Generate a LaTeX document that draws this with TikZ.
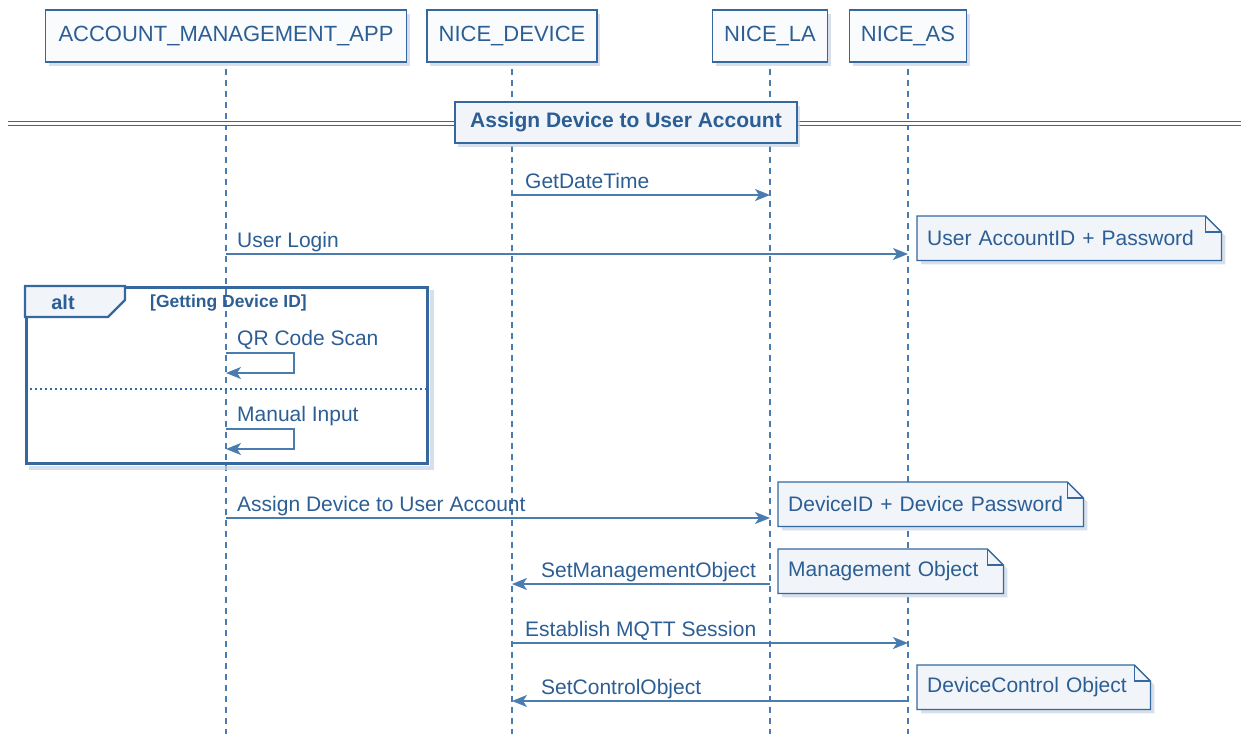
\documentclass[tikz,border=0pt]{standalone}
\usepackage{fontspec}
\setmainfont{Liberation Sans}
\usetikzlibrary{positioning}
\usetikzlibrary{calc}
\usetikzlibrary{arrows.meta, shadows, backgrounds}

\definecolor{umlline}{RGB}{52,104,158}
\definecolor{umltext}{RGB}{44,94,148}
\definecolor{umlarrow}{RGB}{74,124,176}
\definecolor{umlfill}{RGB}{250,251,253}
\definecolor{umlnote}{RGB}{241,245,250}
\definecolor{umlshadow}{RGB}{196,210,226}

\tikzstyle{participant} = [rectangle, draw=umlline, line width=1.8pt, fill=umlfill, text=umltext, minimum height=52pt, font=\fontsize{22}{26}\selectfont, drop shadow={shadow xshift=3pt, shadow yshift=-4pt, fill=umlshadow, opacity=0.7}]
\tikzstyle{lifeline} = [umlarrow, line width=1.2pt, dash pattern=on 6pt off 5pt]
\tikzstyle{msg} = [umlarrow, line width=1.5pt, -{Stealth[length=15pt, width=12pt, inset=4pt]}]
\tikzstyle{msgtext} = [anchor=base west, text=umltext, inner sep=0pt, font=\fontsize{21}{24}\selectfont]
\tikzstyle{notebox} = [anchor=north west, minimum height=44pt, inner xsep=10pt, text=umltext, align=left, font=\fontsize{21}{24}\selectfont]

% dog-eared note outline behind a named node
\newcommand{\drawnote}[1]{%
    \begin{pgfonlayer}{background}
    \fill[umlshadow, opacity=0.7] ($(#1.south west)+(4,4)$) -- ($(#1.north west)+(4,4)$)
        -- ($(#1.north east)+(-12,4)$) -- ($(#1.north east)+(4,20)$) -- ($(#1.south east)+(4,4)$) -- cycle;
    \filldraw[umlline, fill=umlnote, line width=1.3pt] (#1.south west) -- (#1.north west)
        -- ($(#1.north east)+(-16,0)$) -- ($(#1.north east)+(0,16)$) -- (#1.south east) -- cycle;
    \draw[umlline, line width=1.3pt] ($(#1.north east)+(-16,0)$) -- ($(#1.north east)+(-16,16)$) -- ($(#1.north east)+(0,16)$);
    \end{pgfonlayer}}

\begin{document}
\begin{tikzpicture}[x=1pt, y=-1pt]
    \useasboundingbox (0,0) rectangle (1241,734);

    % --- participants ---
    \node[participant, minimum width=361pt] at (226, 36) (app) {ACCOUNT\_MANAGEMENT\_APP};
    \node[participant, minimum width=170pt] at (512, 36) (device) {NICE\_DEVICE};
    \node[participant, minimum width=115pt] at (770, 36) (la) {NICE\_LA};
    \node[participant, minimum width=117pt] at (908, 36) (as) {NICE\_AS};

    % bottom of the lifelines
    \coordinate (bottom) at (0, 734);

    % lifelines, kept behind everything else
    \begin{pgfonlayer}{background}
    \draw[lifeline] ([yshift=-6pt]app.south) -- (app |- bottom);
    \draw[lifeline] ([yshift=-6pt]device.south) -- (device |- bottom);
    \draw[lifeline] ([yshift=-6pt]la.south) -- (la |- bottom);
    \draw[lifeline] ([yshift=-6pt]as.south) -- (as |- bottom);
    \end{pgfonlayer}

    % --- divider with title ---
    \coordinate (div_l) at (8, 123.5);
    \coordinate (div_r) at (1241, 123.5);
    \draw[umlline, line width=1.3pt, double=white, double distance=2.6pt] (div_l) -- (div_r);
    \node[
        draw=umlline, line width=2.6pt, fill=umlnote, text=umltext, minimum width=342pt, minimum height=41pt,
        font=\bfseries\fontsize{21}{24}\selectfont,
        drop shadow={shadow xshift=3pt, shadow yshift=-4pt, fill=umlshadow, opacity=0.7}
    ] at (626, 122.5) (phase) {Assign Device to User Account};

    % rows of the messages
    \coordinate (r1) at (0, 195);
    \coordinate (r2) at (0, 254);
    \coordinate (r3) at (0, 353);
    \coordinate (r4) at (0, 429);
    \coordinate (r5) at (0, 518);
    \coordinate (r6) at (0, 584);
    \coordinate (r7) at (0, 643);
    \coordinate (r8) at (0, 701);

    % GetDateTime from device to LA
    \draw[msg] (device |- r1) -- (la |- r1);
    \node[msgtext] at ($(device |- r1) + (13, -7)$) (m_time) {GetDateTime};

    % User Login from app to AS, with a note
    \draw[msg] (app |- r2) -- (as |- r2);
    \node[msgtext] at ($(app |- r2) + (11, -7)$) (m_login) {User Login};
    \node[notebox, text width=284pt] at (917, 216) (n_login) {User AccountID + Password};
    \drawnote{n_login}

    % --- alt frame ---
    \node[
        draw=umlline, line width=2.6pt, minimum width=401pt, minimum height=176pt, anchor=north west
    ] at (25, 286) (alt) {};
    % shadow of the frame, only on its right and bottom side
    \fill[umlshadow, opacity=0.7] ($(alt.north east) + (1, 4)$) rectangle ($(alt.south east) + (5, 5)$);
    \fill[umlshadow, opacity=0.7] ($(alt.south west) + (4, 1)$) rectangle ($(alt.south east) + (1, 5)$);
    \filldraw[umlline, fill=umlnote, line width=2.4pt] (alt.north west) -- ++(100, 0) -- ++(0, 14)
        -- ++(-17, 17) -- ($(alt.north west) + (0, 31)$) -- cycle;
    \node[text=umltext, font=\bfseries\fontsize{20}{24}\selectfont] at (63, 302) (alt_text) {alt};
    \node[anchor=west, text=umltext, inner sep=0pt, font=\bfseries\fontsize{17.5}{20}\selectfont] at (150, 303) (guard) {[Getting Device ID]};

    % QR Code Scan, self message
    \draw[msg] (app |- r3) -- ++(68, 0) -- ++(0, 20) -- ($(app |- r3) + (0, 20)$);
    \node[msgtext] at ($(app |- r3) + (11, -8)$) (m_qr) {QR Code Scan};

    % dotted separator between the cases
    \coordinate (sep) at (0, 389);
    \draw[umlline, line width=1.4pt, dash pattern=on 2pt off 3pt] (alt.west |- sep) -- (alt.east |- sep);

    % Manual Input, self message
    \draw[msg] (app |- r4) -- ++(68, 0) -- ++(0, 20) -- ($(app |- r4) + (0, 20)$);
    \node[msgtext] at ($(app |- r4) + (11, -8)$) (m_manual) {Manual Input};

    % Assign Device to User Account from app to LA, with a note
    \draw[msg] (app |- r5) -- (la |- r5);
    \node[msgtext] at ($(app |- r5) + (11, -7)$) (m_assign) {Assign Device to User Account};
    \node[notebox, text width=285pt] at (778, 482) (n_assign) {DeviceID + Device Password};
    \drawnote{n_assign}

    % SetManagementObject from LA back to device, with a note
    \draw[msg] (la |- r6) -- (device |- r6);
    \node[msgtext] at ($(device |- r6) + (29, -7)$) (m_mgmt) {SetManagementObject};
    \node[notebox, text width=205pt] at (778, 549) (n_mgmt) {Management Object};
    \drawnote{n_mgmt}

    % Establish MQTT Session from device to AS
    \draw[msg] (device |- r7) -- (as |- r7);
    \node[msgtext] at ($(device |- r7) + (13, -7)$) (m_mqtt) {Establish MQTT Session};

    % SetControlObject from AS back to device, with a note
    \draw[msg] (as |- r8) -- (device |- r8);
    \node[msgtext] at ($(device |- r8) + (29, -7)$) (m_ctrl) {SetControlObject};
    \node[notebox, text width=213pt] at (917, 665) (n_ctrl) {DeviceControl Object};
    \drawnote{n_ctrl}

\end{tikzpicture}
\end{document}
